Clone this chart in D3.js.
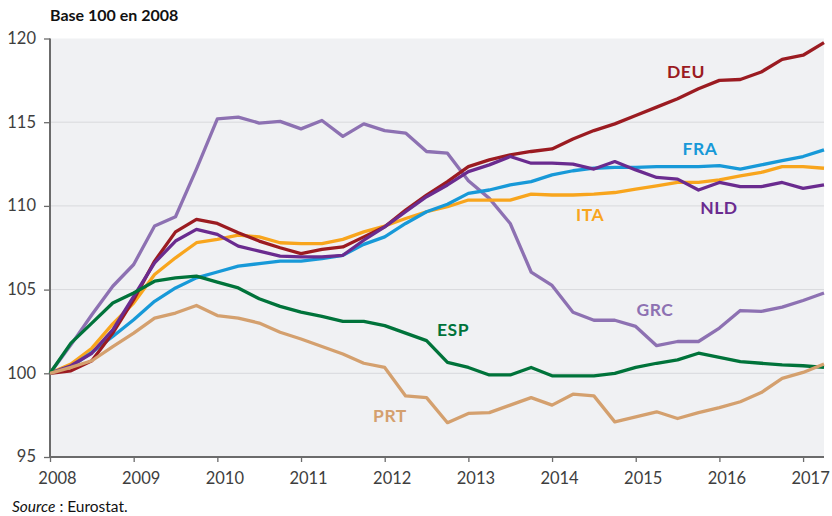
<!DOCTYPE html>
<html>
<head>
<meta charset="utf-8">
<script src="https://cdn.jsdelivr.net/npm/d3@7"></script>
<style>
  body { margin: 0; background: #fff; }
  svg { display: block; font-family: Lato, "Open Sans", sans-serif; }
</style>
</head>
<body>
<svg id="chart" width="832" height="516"></svg>
<script>
// quarters 2008T1 .. 2017T2
var years = d3.range(38).map(function(i) { return 2008 + i / 4; });
var yTicks = [95, 100, 105, 110, 115, 120];
var xTicks = [2008, 2009, 2010, 2011, 2012, 2013, 2014, 2015, 2016, 2017];

var deu = [100, 100.15, 100.75, 102.4, 104.4, 106.7, 108.45, 109.2, 108.95, 108.4, 107.9, 107.5, 107.15, 107.4, 107.55, 108.15, 108.75, 109.75, 110.65, 111.45, 112.35, 112.75, 113.05, 113.25, 113.4, 114.0, 114.5, 114.9, 115.4, 115.9, 116.4, 117.0, 117.5, 117.55, 118.0, 118.75, 119.0, 119.75];
var fra = [100, 100.4, 101.25, 102.2, 103.2, 104.3, 105.1, 105.7, 106.05, 106.4, 106.55, 106.7, 106.7, 106.85, 107.05, 107.7, 108.15, 108.95, 109.65, 110.1, 110.75, 110.95, 111.25, 111.45, 111.85, 112.1, 112.25, 112.3, 112.3, 112.35, 112.35, 112.35, 112.4, 112.2, 112.45, 112.7, 112.95, 113.35];
var ita = [100, 100.55, 101.5, 102.95, 104.2, 105.9, 106.9, 107.8, 108.0, 108.25, 108.15, 107.8, 107.75, 107.75, 108.0, 108.45, 108.8, 109.25, 109.65, 109.95, 110.35, 110.35, 110.35, 110.7, 110.65, 110.65, 110.7, 110.8, 111.0, 111.2, 111.4, 111.4, 111.55, 111.8, 112.0, 112.35, 112.35, 112.25];
var nld = [100, 100.45, 101.2, 102.6, 104.6, 106.6, 107.9, 108.6, 108.3, 107.6, 107.3, 107.0, 106.95, 106.95, 107.05, 107.95, 108.75, 109.65, 110.55, 111.25, 112.05, 112.45, 112.95, 112.55, 112.55, 112.5, 112.2, 112.65, 112.15, 111.7, 111.6, 110.95, 111.4, 111.15, 111.15, 111.4, 111.05, 111.25];
var grc = [100, 101.7, 103.5, 105.2, 106.5, 108.8, 109.35, 112.2, 115.2, 115.3, 114.95, 115.05, 114.6, 115.1, 114.15, 114.9, 114.5, 114.35, 113.25, 113.15, 111.5, 110.45, 108.95, 106.05, 105.25, 103.65, 103.17, 103.17, 102.8, 101.65, 101.9, 101.9, 102.7, 103.75, 103.7, 103.95, 104.35, 104.8];
var esp = [100, 101.8, 103.0, 104.2, 104.8, 105.5, 105.7, 105.8, 105.45, 105.1, 104.45, 104.0, 103.65, 103.4, 103.1, 103.1, 102.85, 102.4, 101.95, 100.65, 100.35, 99.9, 99.9, 100.35, 99.85, 99.85, 99.85, 100.0, 100.35, 100.6, 100.8, 101.2, 100.95, 100.7, 100.6, 100.5, 100.45, 100.35];
var prt = [100, 100.35, 100.75, 101.6, 102.4, 103.3, 103.6, 104.05, 103.45, 103.3, 103.0, 102.45, 102.05, 101.6, 101.15, 100.6, 100.35, 98.65, 98.55, 97.05, 97.6, 97.65, 98.1, 98.55, 98.1, 98.75, 98.65, 97.1, 97.4, 97.7, 97.3, 97.65, 97.95, 98.3, 98.85, 99.7, 100.05, 100.55];

// drawing order, back to front
var series = [
  { name: "GRC", values: grc, color: "#8d71b2", lx: 655, ly: 316 },
  { name: "ITA", values: ita, color: "#f8a51d", lx: 590, ly: 221 },
  { name: "FRA", values: fra, color: "#1799d8", lx: 700, ly: 155 },
  { name: "DEU", values: deu, color: "#9b1b21", lx: 686, ly: 78 },
  { name: "NLD", values: nld, color: "#6a2b8f", lx: 719, ly: 214 },
  { name: "ESP", values: esp, color: "#00733a", lx: 453, ly: 336 },
  { name: "PRT", values: prt, color: "#d4a06e", lx: 390, ly: 422 }
];

var svg = d3.select("#chart");
var plotL = 50, plotR = 824, plotT = 38.5, plotB = 457;

var x = d3.scaleLinear().domain([2008, 2017.25]).range([plotL, plotR]);
var y = d3.scaleLinear().domain([95, 120]).range([plotB, plotT]);

// plot background
svg.append("rect").attr("x", plotL).attr("y", plotT)
  .attr("width", plotR - plotL).attr("height", plotB - plotT)
  .attr("fill", "#f0f1f3");

// gridlines
svg.append("g").selectAll("line")
  .data(yTicks.filter(function(d) { return d > 95 && d < 120; }))
  .enter().append("line")
  .attr("x1", plotL).attr("x2", plotR)
  .attr("y1", function(d) { return y(d); }).attr("y2", function(d) { return y(d); })
  .attr("stroke", "#d8d9dc").attr("stroke-width", 1);

// y axis
var yAxis = svg.append("g").attr("transform", "translate(" + plotL + ",0)")
  .call(d3.axisLeft(y).tickValues(yTicks).tickSize(6).tickPadding(8));
yAxis.select(".domain").attr("stroke", "#6b6b6b").attr("stroke-width", 2)
  .attr("d", "M0," + plotT + "V" + plotB);
yAxis.selectAll(".tick line").attr("stroke", "#6b6b6b").attr("stroke-width", 1.3);
yAxis.selectAll(".tick text").attr("font-size", 16.5).attr("fill", "#3e3e3e")
  .attr("font-family", "Lato, sans-serif").attr("dy", "0.3em");

// x axis
var xAxis = svg.append("g").attr("transform", "translate(0," + plotB + ")")
  .call(d3.axisBottom(x).tickValues(xTicks).tickFormat(d3.format("d")).tickSize(5).tickPadding(10));
xAxis.select(".domain").attr("stroke", "#6b6b6b").attr("stroke-width", 2)
  .attr("d", "M" + plotL + ",0H" + plotR);
xAxis.selectAll(".tick line").attr("stroke", "#6b6b6b").attr("stroke-width", 1.3);
xAxis.selectAll(".tick text").attr("font-size", 16.5).attr("fill", "#3e3e3e")
  .attr("font-family", "Lato, sans-serif").attr("x", 7).attr("dy", "0.75em");

// lines
var line = d3.line()
  .x(function(d, i) { return x(years[i]); })
  .y(function(d) { return y(d); });

svg.append("g").selectAll("path")
  .data(series)
  .enter().append("path")
  .attr("d", function(s) { return line(s.values); })
  .attr("fill", "none")
  .attr("stroke", function(s) { return s.color; })
  .attr("stroke-width", 3.3)
  .attr("stroke-linejoin", "round");

// series labels
svg.append("g").selectAll("text")
  .data(series)
  .enter().append("text")
  .attr("x", function(s) { return s.lx; })
  .attr("y", function(s) { return s.ly; })
  .attr("text-anchor", "middle")
  .attr("font-size", 17.5).attr("font-weight", "bold")
  .attr("letter-spacing", 0.5)
  .attr("fill", function(s) { return s.color; })
  .text(function(s) { return s.name; });

// title
svg.append("text").attr("x", 50).attr("y", 21)
  .attr("font-size", 16).attr("font-weight", "bold").attr("fill", "#111")
  .text("Base 100 en 2008");

// source
var src = svg.append("text").attr("x", 12).attr("y", 512)
  .attr("font-size", 15.5).attr("fill", "#111");
src.append("tspan").attr("font-style", "italic").text("Source");
src.append("tspan").text(" : Eurostat.");
</script>
</body>
</html>
